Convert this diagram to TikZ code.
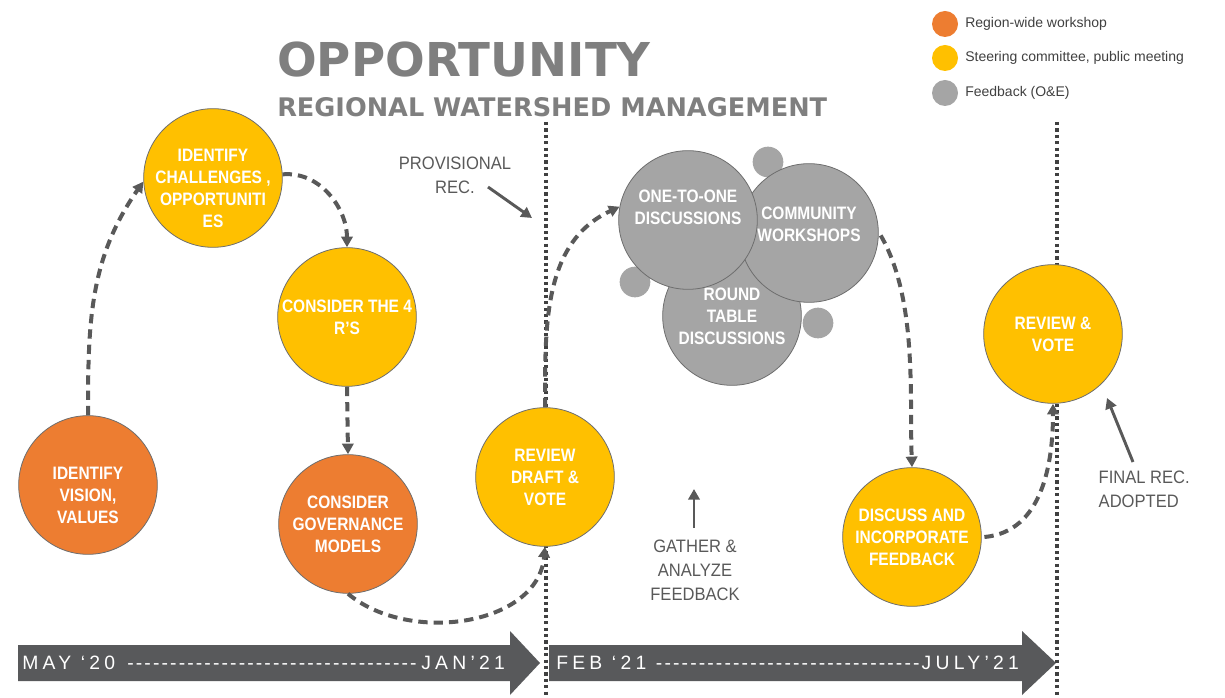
\documentclass[tikz,border=0pt]{standalone}
\usepackage{fontspec}
\setmainfont{Liberation Sans}
\newfontfamily\circfont[FakeStretch=0.86]{Liberation Sans}
\newfontfamily\annfont[FakeStretch=0.92]{Liberation Sans}
\newfontfamily\headfont{DejaVu Sans}
\newfontfamily\bandfont[LetterSpace=22]{Liberation Sans}
\usetikzlibrary{arrows.meta}

\definecolor{wsorange}{HTML}{ED7D31}
\definecolor{wsyellow}{HTML}{FFC000}
\definecolor{fbgray}{HTML}{A5A5A5}
\definecolor{edgegray}{HTML}{6E6E6E}
\definecolor{arrowgray}{HTML}{595959}
\definecolor{dotgray}{HTML}{404040}
\definecolor{bandgray}{HTML}{58595B}
\definecolor{titlegray}{HTML}{7F7F7F}
\definecolor{legendgray}{HTML}{404040}

\tikzset{
	stagetext/.style={text=white, align=center, font=\circfont\bfseries\fontsize{13.5}{16.5}\selectfont},
	stage/.style={circle, draw=edgegray, line width=0.6pt, minimum size=104pt, inner sep=0pt, stagetext},
	region/.style={stage, fill=wsorange},
	steer/.style={stage, fill=wsyellow},
	feed/.style={stage, fill=fbgray},
	flow/.style={draw=arrowgray, line width=3pt, dash pattern=on 7pt off 4.5pt, ->},
	pointer/.style={draw=arrowgray, line width=2.2pt, ->},
	note/.style={text=arrowgray, align=center, font=\annfont\fontsize{13.5}{18}\selectfont},
	divider/.style={draw=dotgray, line width=2.4pt, dash pattern=on 2.4pt off 2.4pt},
	bandtext/.style={text=white, anchor=west, inner sep=0pt, font=\bandfont\fontsize{14.5}{16}\selectfont},
	legdot/.style={circle, minimum size=19.5pt, inner sep=0pt},
	legtext/.style={anchor=west, inner sep=0pt, text=legendgray, font=\fontsize{10.5}{12}\selectfont}
}

\begin{document}
\begin{tikzpicture}[x=0.75pt, y=-0.75pt, >={Triangle[length=8pt,width=8.5pt]}]
	\useasboundingbox (0,0) rectangle (1225,698);
	\clip (0,0) rectangle (1225,698);

	% title
	\node[anchor=base west, inner sep=0pt, text=titlegray, font=\headfont\bfseries\fontsize{35}{40}\selectfont] (title) at (277,77) {OPPORTUNITY};
	\node[anchor=base west, inner sep=0pt, text=titlegray, font=\headfont\bfseries\fontsize{19.2}{22}\selectfont] (subtitle) at (277,117) {REGIONAL WATERSHED MANAGEMENT};

	% legend
	\foreach \c/\y/\t [count=\i] in {wsorange/24/Region-wide workshop, wsyellow/58/{Steering committee, public meeting}, fbgray/93/Feedback (O\&E)} {
		\node[legdot, fill=\c] (leg\i) at (945,\y) {};
		\node[legtext] (legtext\i) at (965,\y) {\t};
	}

	% time bands
	\foreach \a/\b/\c in {18/510/540, 549/1022/1056} {
		\fill[bandgray] (\a,645) -- (\b,645) -- (\b,631) -- (\c,663) -- (\b,695) -- (\b,681) -- (\a,681) -- cycle;
	}
	\node[bandtext] (band1) at (22,663) {\hbox to 362pt{MAY ‘20 \cleaders\hbox{-\kern1.6pt}\hfill JAN’21}};
	\node[bandtext] (band2) at (556,663) {\hbox to 347pt{FEB ‘21 \cleaders\hbox{-\kern1.6pt}\hfill JULY’21}};

	% phase dividers
	\draw[divider] (546,122) -- (546,698);
	\draw[divider] (1057,122) -- (1057,698);

	% stages
	\node[region, label={[stagetext, yshift=-7.5pt]center:{IDENTIFY\\VISION,\\VALUES}}] (vision) at (88,485) {};
	\node[steer, label={[stagetext, yshift=-8pt]center:{IDENTIFY\\CHALLENGES ,\\OPPORTUNITI\\ES}}] (chall) at (213,178) {};
	\node[steer] (rfour) at (347,317) {CONSIDER THE 4\\R’S};
	\node[region] (gov) at (348,524) {CONSIDER\\GOVERNANCE\\MODELS};
	\node[steer] (draft) at (545,477) {REVIEW\\DRAFT \&\\VOTE};

	\foreach \p in {(768,162), (635,282), (818,323)} {
		\fill[fbgray] \p circle (11.5pt);
	}
	\node[feed] (round) at (732,316) {ROUND\\TABLE\\DISCUSSIONS};
	\node[feed, label={[stagetext, yshift=6.5pt]center:{COMMUNITY\\WORKSHOPS}}] (comm) at (809,233) {};
	\node[feed, label={[stagetext, yshift=9.75pt]center:{ONE-TO-ONE\\DISCUSSIONS}}] (one) at (688,220) {};

	\node[steer] (disc) at (912,537) {DISCUSS AND\\INCORPORATE\\FEEDBACK};
	\node[steer] (rvote) at (1053,334) {REVIEW \&\\VOTE};

	% notes
	\node[note] (prov) at (455,175) {PROVISIONAL\\REC.};
	\node[note] (gather) at (695,570) {GATHER \&\\ANALYZE\\FEEDBACK};
	\node[note, align=left, anchor=west] (final) at (1094,489) {FINAL REC.\\ADOPTED};

	\coordinate (provtail) at (488,187);
	\coordinate (provhead) at (532,218);
	\coordinate (gathertail) at (694,528);
	\coordinate (gatherhead) at (694,489);
	\coordinate (finaltail) at (1133,462);
	\coordinate (finalhead) at (1107,398);
	\draw[pointer] (provtail) -- (provhead);
	\draw[pointer] (gathertail) -- (gatherhead);
	\draw[pointer] (finaltail) -- (finalhead);

	% flow between stages
	\draw[flow] (vision.north) to[out=90, in=235] (chall.183);
	\draw[flow] (chall.3) to[out=5, in=90] (rfour.north);
	\draw[flow] (rfour.south) -- (gov.north);
	\draw[flow] (gov.south) to[out=-40, in=-95] (draft.south);
	\draw[flow] (draft.north) to[out=90, in=205] (one.169);
	\draw[flow] ([xshift=1.5pt]comm.358) to[out=-60, in=92, looseness=0.8] (disc.north);
	\draw[flow] ([xshift=2pt]disc.east) to[out=5, in=-90] (rvote.south);
\end{tikzpicture}
\end{document}
